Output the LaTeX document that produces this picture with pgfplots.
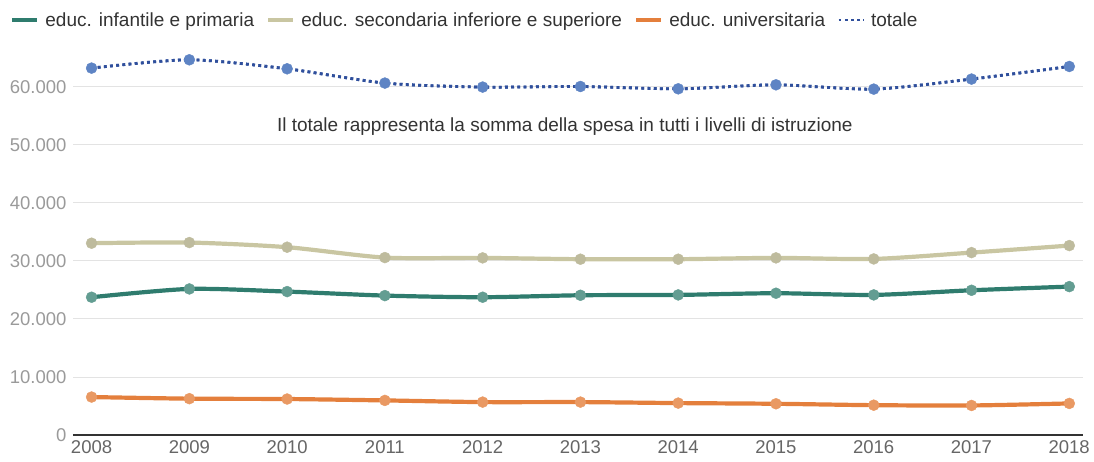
\documentclass[border=0pt]{standalone}
\usepackage{pgfplots}
\pgfplotsset{compat=1.18}
\usepackage{fontspec}
\setmainfont{Liberation Sans}
\definecolor{cprim}{HTML}{2F7C6E}
\definecolor{csec}{HTML}{C9C6A2}
\definecolor{cuni}{HTML}{E47F3C}
\definecolor{ctot}{HTML}{2F4F9C}
\definecolor{ctotm}{HTML}{5E84C4}
\definecolor{cgrid}{HTML}{E3E3E3}
\definecolor{ctick}{HTML}{9A9A9A}
\definecolor{cyear}{HTML}{666666}
\definecolor{ctext}{HTML}{333333}
\pgfplotstableread{
x tot
2008 63220
2009 64650
2010 63100
2011 60640
2012 59950
2013 60050
2014 59650
2015 60340
2016 59600
2017 61330
2018 63500
}\tottable
\begin{document}
\begin{tikzpicture}
\useasboundingbox (-73pt,-26pt) rectangle (1021pt,435pt);
\begin{axis}[
  at={(0pt,0pt)}, anchor=south west,
  scale only axis, width=1010pt, height=390pt,
  xmin=2007.81, xmax=2018.14, ymin=0, ymax=67200,
  axis x line*=bottom, axis y line*=left,
  y axis line style={draw=none},
  x axis line style={draw=ctext, line width=1.3pt, -},
  xtick={2008,...,2018},
  ytick={0,10000,...,60000},
  major tick length=0pt,
  ymajorgrids, grid style={cgrid, line width=0.9pt},
  scaled y ticks=false,
  yticklabel style={color=ctick, font=\fontsize{18.5}{21}\selectfont, /pgf/number format/.cd, 1000 sep={.}, assume math mode=true},
  xticklabel style={color=cyear, font=\fontsize{18.5}{21}\selectfont, /pgf/number format/.cd, 1000 sep={}, assume math mode=true},
  yticklabel shift=3pt,
  xticklabel shift=2pt,
  clip=false,
  legend columns=4,
  legend style={at={(rel axis cs:-0.0624,1.064)}, anchor=west, draw=none, fill=none,
    font=\fontsize{19}{22}\selectfont\color{ctext}, inner sep=0pt,
    /tikz/every odd column/.append style={column sep=4pt},
    /tikz/every even column/.append style={column sep=10pt}},
  legend image code/.code={\draw[#1, mark=none] (0pt,0pt) -- (25pt,0pt);},
  every axis plot/.append style={smooth, tension=0.45, line width=4.2pt, mark=*, mark size=5.5pt},
]
\addplot[color=cprim, mark options={fill=cprim!75!white, draw=cprim!75!white, line width=0.4pt}] coordinates {
 (2008,23740) (2009,25170) (2010,24710) (2011,24020) (2012,23740) (2013,24080)
 (2014,24140) (2015,24430) (2016,24140) (2017,24940) (2018,25570)};
\addlegendentry{educ. infantile e primaria}
\addplot[color=csec, mark options={fill=csec!85!gray, draw=csec!85!gray, line width=0.4pt}] coordinates {
 (2008,33050) (2009,33160) (2010,32360) (2011,30570) (2012,30520) (2013,30290)
 (2014,30290) (2015,30520) (2016,30340) (2017,31430) (2018,32640)};
\addlegendentry{educ. secondaria inferiore e superiore}
\addplot[color=cuni, mark options={fill=cuni!80!white, draw=cuni!80!white, line width=0.4pt}] coordinates {
 (2008,6540) (2009,6260) (2010,6200) (2011,5960) (2012,5670) (2013,5670)
 (2014,5500) (2015,5380) (2016,5140) (2017,5090) (2018,5440)};
\addlegendentry{educ. universitaria}
\addplot[color=ctot, line width=2.8pt, dash pattern=on 2.8pt off 3.4pt, mark options={fill=ctotm, draw=ctotm, line width=0.4pt, solid}] table[x=x, y=tot] {\tottable};
\addlegendentry{totale}
\addplot[forget plot, color=ctot, line width=2.8pt, dash pattern=on 2.8pt off 3.4pt, mark=none] table[x=x, y=tot] {\tottable};
\node[font=\fontsize{19}{22}\selectfont, text=ctext] at (axis cs:2012.84,53100) {Il totale rappresenta la somma della spesa in tutti i livelli di istruzione};
\end{axis}
\end{tikzpicture}
\end{document}
